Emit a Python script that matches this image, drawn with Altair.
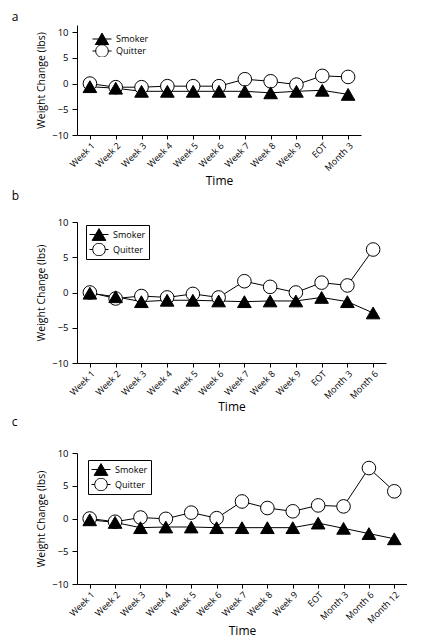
import altair as alt
import pandas as pd

groups = ["Smoker", "Quitter"]

labels_a = ["Week 1", "Week 2", "Week 3", "Week 4", "Week 5", "Week 6",
            "Week 7", "Week 8", "Week 9", "EOT", "Month 3"]
smoker_a = [-0.6, -0.9, -1.5, -1.5, -1.5, -1.5, -1.5, -1.8, -1.5, -1.3, -2.1]
quitter_a = [0.0, -0.7, -0.7, -0.5, -0.5, -0.5, 0.85, 0.45, -0.2, 1.5, 1.3]

labels_b = labels_a + ["Month 6"]
smoker_b = [-0.1, -0.6, -1.3, -1.1, -1.1, -1.2, -1.3, -1.2, -1.2, -0.7, -1.3, -2.9]
quitter_b = [0.0, -0.85, -0.5, -0.7, -0.2, -0.7, 1.6, 0.8, 0.0, 1.4, 1.0, 6.1]

labels_c = labels_b + ["Month 12"]
smoker_c = [-0.2, -0.6, -1.4, -1.3, -1.3, -1.4, -1.4, -1.4, -1.4, -0.7, -1.5, -2.3, -3.1]
quitter_c = [0.0, -0.5, 0.15, -0.05, 0.9, 0.05, 2.6, 1.6, 1.1, 2.0, 1.85, 7.7, 4.15]

y_ticks = [-10, -5, 0, 5, 10]

FONT = "Open Sans"

SMOKER_PATH = "M-1,0H1M0,-0.62L0.72,0.62L-0.72,0.62Z"
QUITTER_PATH = ("M-1,0H-0.66M0.66,0H1M0.66,0A0.66,0.66,0,1,1,-0.66,0"
                "A0.66,0.66,0,1,1,0.66,0Z")


def panel(letter, cats, smoker, quitter, w, h, ymax, boxed, lx, ly, row_h,
          title_offset, x_title_pad):
    n = len(cats)
    df = pd.DataFrame({
        "Time": cats + cats,
        "Group": ["Quitter"] * n + ["Smoker"] * n,
        "Change": quitter + smoker,
    })
    x = alt.X("Time:N", sort=cats, title="Time",
              scale=alt.Scale(paddingInner=0, paddingOuter=0),
              axis=alt.Axis(bandPosition=1, labelAngle=-45, labelFontSize=9,
                            labelPadding=2, tickSize=4, titlePadding=x_title_pad,
                            titleFontSize=12))
    y = alt.Y("Change:Q", title="Weight Change (lbs)",
              scale=alt.Scale(domain=[-10, ymax], nice=False, zero=False),
              axis=alt.Axis(values=y_ticks, labelFontSize=9.5, tickSize=5,
                            labelPadding=4, titlePadding=5, titleFontSize=10.5))
    lines = alt.Chart(df).mark_line(color="black", strokeWidth=1).encode(
        x=x, y=y, detail="Group:N")
    pts = alt.Chart(df).mark_point(filled=True, size=185, stroke="black",
                                   strokeWidth=1, opacity=1).encode(
        x=x, y=y,
        shape=alt.Shape("Group:N", scale=alt.Scale(domain=groups, range=["triangle-up", "circle"]),
                        legend=None),
        fill=alt.Fill("Group:N", scale=alt.Scale(domain=groups, range=["black", "white"]),
                      legend=None),
    )
    legend = alt.Legend(
        title=None, orient="none", legendX=lx, legendY=ly,
        labelFontSize=9, labelFont=FONT, symbolSize=361, symbolStrokeWidth=1,
        symbolStrokeColor="black", symbolOpacity=1,
        clipHeight=row_h, rowPadding=2 if boxed else 0, labelOffset=4,
        padding=3 if boxed else 0,
        strokeColor="black" if boxed else "transparent",
        fillColor="white" if boxed else "transparent",
    )
    key = alt.Chart(df).transform_filter("false").mark_point(
        filled=True, size=361, stroke="black", strokeWidth=1, opacity=1).encode(
        x=x, y=y,
        shape=alt.Shape("Group:N", scale=alt.Scale(domain=groups, range=[SMOKER_PATH, QUITTER_PATH]),
                        legend=legend),
        fill=alt.Fill("Group:N", scale=alt.Scale(domain=groups, range=["black", "white"]),
                      legend=legend),
        stroke=alt.Stroke("Group:N", scale=alt.Scale(domain=groups, range=["black", "black"]),
                          legend=legend),
    )
    return alt.layer(lines, pts, key).resolve_scale(
        shape="independent", fill="independent", stroke="independent"
    ).properties(
        width=w, height=h,
        title=alt.TitleParams(letter, anchor="start", frame="bounds", dx=-25,
                              fontSize=12, fontWeight="normal", font=FONT,
                              offset=title_offset, color="black"),
    )


pa = panel("a", labels_a, smoker_a, quitter_a, 284, 110, 11.4, False, 15, 8, 12, 1, 3)
pb = panel("b", labels_b, smoker_b, quitter_b, 309, 141, 10, True, 9, 3, 13, 14, 1)
pc = panel("c", labels_c, smoker_c, quitter_c, 330, 131, 10, True, 11, 7, 13, 19, 1)

chart = alt.vconcat(pa, pb, pc, spacing=3).properties(
    padding={"left": 3, "top": 3, "right": 0, "bottom": 3}
).configure_view(stroke=None).configure_axis(
    grid=False, domainColor="black", tickColor="black", labelColor="black",
    titleColor="black", labelFont=FONT, titleFont=FONT, titleFontWeight="normal",
    domainWidth=1, tickWidth=1,
).configure_legend(labelColor="black")

chart.save("out.html", embed_options={"renderer": "svg", "actions": False})
